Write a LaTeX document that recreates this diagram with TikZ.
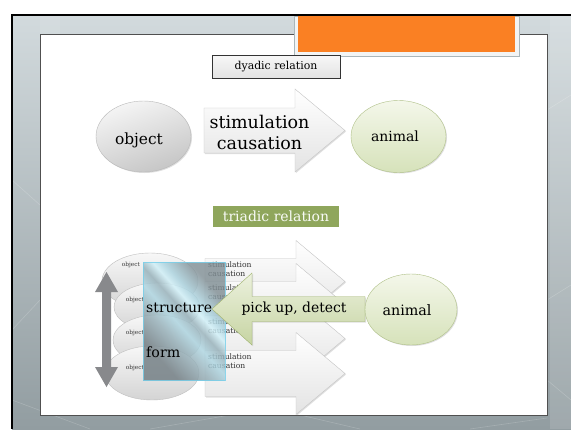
\documentclass[tikz,border=0pt]{standalone}
\usepackage{fontspec}
\setmainfont{DejaVu Serif}
\usetikzlibrary{shapes.geometric,shadows}
\definecolor{bgtop}{RGB}{210,218,221}
\definecolor{bgbot}{RGB}{146,157,161}
\definecolor{panelline}{RGB}{80,80,80}
\definecolor{orangebox}{RGB}{250,128,35}
\definecolor{titleframe}{RGB}{242,244,244}
\definecolor{titleline}{RGB}{170,182,186}
\definecolor{olive}{RGB}{143,166,92}
\definecolor{greenA}{RGB}{244,247,234}
\definecolor{greenB}{RGB}{214,226,186}
\definecolor{greenline}{RGB}{175,192,135}
\definecolor{garrowA}{RGB}{236,241,222}
\definecolor{garrowB}{RGB}{198,212,162}
\definecolor{garrowline}{RGB}{160,180,110}
\definecolor{darrow}{RGB}{136,137,140}
\definecolor{glassD}{RGB}{112,124,130}
\definecolor{glassE}{RGB}{128,142,148}
\definecolor{glassA}{RGB}{150,176,185}
\definecolor{glassB}{RGB}{208,240,248}
\definecolor{glassC}{RGB}{172,212,224}
\definecolor{glassline}{RGB}{120,208,235}
\pgfdeclareverticalshading{glassshade}{100bp}{color(0bp)=(glassD); color(28bp)=(glassD); color(40bp)=(glassA); color(47bp)=(glassC); color(53bp)=(glassA); color(58bp)=(glassB); color(62bp)=(glassC); color(72bp)=(glassE); color(100bp)=(glassE)}
\begin{document}
\begin{tikzpicture}[x=1pt,y=-1pt,
  grayell/.style={ellipse, inner sep=0pt, draw=gray!55, top color=gray!8, bottom color=gray!45, shading angle=20,
    drop shadow={shadow xshift=1pt, shadow yshift=-1pt, opacity=0.25}},
  lightell/.style={ellipse, inner sep=0pt, draw=gray!50, top color=gray!6, bottom color=gray!34},
  greenell/.style={ellipse, inner sep=0pt, draw=greenline, top color=greenA, bottom color=greenB,
    drop shadow={shadow xshift=1pt, shadow yshift=-1pt, opacity=0.25}},
  whitearrow/.style={draw=gray!45, top color=white, bottom color=gray!22,
    drop shadow={shadow xshift=1pt, shadow yshift=-1pt, opacity=0.25}},
  bigtxt/.style={inner sep=0pt, align=center},
  smallobj/.style={inner sep=0pt, font=\fontsize{5.8}{7}\selectfont, text=black!80},
  smallstim/.style={inner sep=0pt, anchor=west, align=left, font=\fontsize{7.6}{9}\selectfont, text=black!80}
]
\useasboundingbox (0,0) rectangle (571,429);
% background
\fill[white] (0,0) rectangle (571,429);
\path[top color=bgtop, bottom color=bgbot] (12,15) rectangle (571,429);
\fill[white, opacity=0.12] (550,15) rectangle (571,429);
\fill[white, opacity=0.08] (40,15) rectangle (60,34);
\foreach \a/\b/\c/\d in {12/400/90/429, 150/429/230/415, 300/415/360/429, 470/429/547/418, 547/300/571/285, 547/110/571/95, 12/330/40/300, 12/180/40/205, 547/380/571/400}
  \draw[white, opacity=0.18, line width=0.6pt] (\a,\b) -- (\c,\d);
\draw[black, line width=1.6pt] (12,429) -- (12,15) -- (571,15);
% panel
\path[draw=panelline, line width=1pt, fill=white, drop shadow={shadow xshift=1pt, shadow yshift=-1pt, opacity=0.3}] (40,34) rectangle (547,415);
% title box
\path[draw=titleline, line width=0.8pt, fill=titleframe] (294,16) rectangle (519,56);
\fill[orangebox] (298,16) rectangle (515,52);
\draw[black, line width=1.6pt] (294,15) -- (519,15);

% dyadic part
\node[draw=black!80, line width=0.8pt, top color=gray!6, bottom color=gray!22, minimum width=128pt, minimum height=23pt, inner sep=0pt,
  font=\fontsize{10.9}{13}\selectfont] (dyad) at (276,66.5) {dyadic relation};
\node[grayell, minimum width=95pt, minimum height=71pt] (obj) at (143.5,136.5) {};
\node[bigtxt, font=\fontsize{15.4}{19}\selectfont] (objt) at (139,140) {object};
\path[whitearrow, shift={(204,130.5)}] (0,-22.5) -- (91,-22.5) -- (91,-41.5) -- (141,0) -- (91,41.5) -- (91,22.5) -- (0,22.5) -- cycle;
\node[bigtxt, font=\fontsize{17.5}{21}\selectfont] (stim) at (259.5,132.5) {stimulation\\causation};
\node[greenell, minimum width=95pt, minimum height=72pt] (ani) at (398.5,136.5) {};
\node[bigtxt, font=\fontsize{14}{17}\selectfont] (anit) at (395,136) {animal};

% triadic part
\node[fill=olive, minimum width=126pt, minimum height=21pt, inner sep=0pt, text=white!95!olive,
  font=\fontsize{14}{16}\selectfont] (triad) at (276,216.5) {triadic relation};

% stacked objects
\node[lightell, minimum width=96pt, minimum height=56pt] (o1) at (150,281) {};
\node[lightell, minimum width=86pt, minimum height=48pt] (o2) at (157,307) {};
\node[lightell, minimum width=88pt, minimum height=50pt] (o3) at (157,340) {};
\node[lightell, minimum width=94pt, minimum height=54pt] (o4) at (152,373) {};
\node[smallobj] (o1t) at (131,265) {object};
\node[smallobj] (o2t) at (135,300) {object};
\node[smallobj] (o3t) at (135,333) {object};
\node[smallobj] (o4t) at (135,368) {object};

% stacked arrows
\foreach \c in {281.5,304.5,338.5,373.5}
  \path[whitearrow, shift={(205,\c)}] (0,-23) -- (91,-23) -- (91,-41) -- (140,0) -- (91,41) -- (91,23) -- (0,23) -- cycle;
\node[smallstim] (s1) at (208,269) {stimulation\\causation};
\node[smallstim] (s2) at (208,292) {stimulation\\causation};
\node[smallstim] (s3) at (208,326) {stimulation\\causation};
\node[smallstim] (s4) at (208,361) {stimulation\\causation};

% vertical double arrow
\fill[darrow] (106.5,272) -- (118,292) -- (111,292) -- (111,367) -- (118,367) -- (106.5,387) -- (95,367) -- (102,367) -- (102,292) -- (95,292) -- cycle;

% glass rectangle
\path[draw=glassline, line width=0.9pt, shading=glassshade, shading angle=-48, opacity=0.82]
  (143,262) rectangle (225,380);
\node[inner sep=0pt, anchor=west, font=\fontsize{14}{17}\selectfont] (struct) at (146,308) {structure};
\node[inner sep=0pt, anchor=west, font=\fontsize{14.2}{17}\selectfont] (form) at (146,352) {form};

% pick up arrow
\path[draw=garrowline, top color=garrowA, bottom color=garrowB, drop shadow={shadow xshift=1pt, shadow yshift=-1pt, opacity=0.25}, shift={(212,309)}]
  (0,0) -- (40,-36) -- (40,-12.5) -- (153,-12.5) -- (153,12.5) -- (40,12.5) -- (40,36) -- cycle;
\node[bigtxt, font=\fontsize{13.9}{17}\selectfont] (pick) at (294,309) {pick up, detect};
\node[greenell, minimum width=92pt, minimum height=71pt] (ani2) at (411,309.5) {};
\node[bigtxt, font=\fontsize{14.3}{17}\selectfont] (ani2t) at (407,310) {animal};
\end{tikzpicture}
\end{document}
